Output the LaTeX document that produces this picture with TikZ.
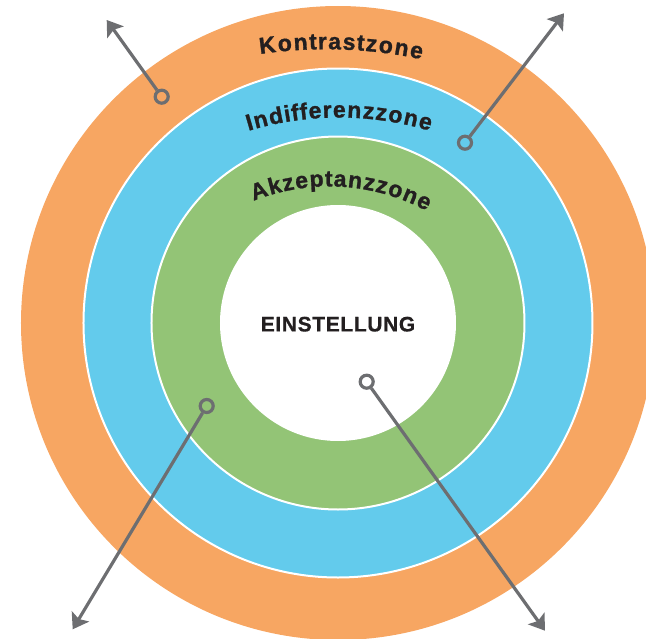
\documentclass[tikz,border=0pt]{standalone}
\usepackage{fontspec}
\usetikzlibrary{arrows.meta,decorations.text}
\newfontfamily\zonefam[FakeBold=1.2]{Liberation Sans}
\newfontfamily\einstfam[LetterSpace=3.0,FakeBold=0.6]{Liberation Sans}
\newcommand\zonefontsel{\zonefam\bfseries\fontsize{23pt}{23pt}\selectfont}
\definecolor{ringorange}{HTML}{F7A662}
\definecolor{ringblue}{HTML}{63CBEC}
\definecolor{ringgreen}{HTML}{93C476}
\definecolor{arrowgray}{HTML}{6D6E71}
\definecolor{txtdark}{HTML}{231F20}
\tikzset{
  ringsep/.style={draw=white, line width=2pt},
  knob/.style={circle, draw=arrowgray, line width=3.2pt, minimum size=13pt, inner sep=0pt},
  pointer/.style={draw=arrowgray, line width=3.2pt, -{Stealth[length=15pt,width=20pt,inset=3pt]}},
  zonetext/.style={font=\zonefontsel, text=txtdark, decorate, decoration={text effects along path, text={#1},
      text effects/.cd, text along path, fit text to path,
      characters={font=\zonefontsel, text=txtdark}}}
}
\begin{document}
\begin{tikzpicture}[x=1pt,y=1pt]
\useasboundingbox (-338,-315) rectangle (308,323);
% rings
\fill[ringorange] (0,0) circle[radius=317pt];
\filldraw[fill=ringblue, ringsep] (0,0) circle[radius=254.5pt];
\filldraw[fill=ringgreen, ringsep] (0,0) circle[radius=186.5pt];
\filldraw[fill=white, ringsep] (0,0) circle[radius=117pt];
% zone labels
\path[zonetext={Kontrastzone}] (-11.85,-181.2) ++(98.34:455pt) arc[start angle=98.34, end angle=77.9, radius=455pt];
\path[zonetext={Indifferenzzone}] (1.15,-110) ++(106.7:315.5pt) arc[start angle=106.7, end angle=73.3, radius=315.5pt];
\path[zonetext={Akzeptanzzone}] (-8.74,-68.9) ++(111.6:205.5pt) arc[start angle=111.6, end angle=61.7, radius=205.5pt];
\node[font={\einstfam\bfseries\fontsize{21pt}{21pt}\selectfont}, text=txtdark, inner sep=0pt] (einst) at (0,-1.2) {EINSTELLUNG};
% pointers
\node[knob] (k1) at (-176.3,226.3) {};
\node[knob] (k2) at (127,180.3) {};
\node[knob] (k3) at (-131.3,-83) {};
\node[knob] (k4) at (28.7,-58.7) {};
\coordinate (t1) at (-231.3,303);
\coordinate (t2) at (226,309.7);
\coordinate (t3) at (-265.3,-306.3);
\coordinate (t4) at (207,-307.7);
\draw[pointer] (k1) -- (t1);
\draw[pointer] (k2) -- (t2);
\draw[pointer] (k3) -- (t3);
\draw[pointer] (k4) -- (t4);
\end{tikzpicture}
\end{document}
